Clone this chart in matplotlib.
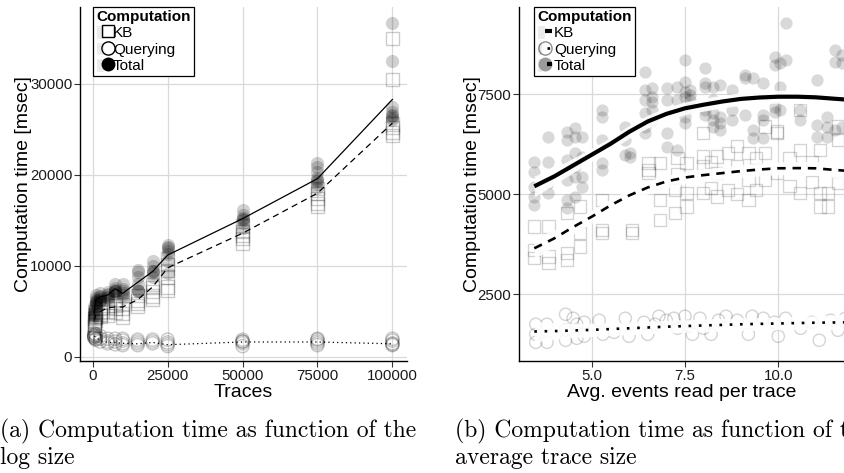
import numpy as np
import matplotlib
matplotlib.use("Agg")
import matplotlib.pyplot as plt
from matplotlib.lines import Line2D
from matplotlib.patches import Rectangle
from matplotlib.legend_handler import HandlerTuple

plt.rcParams['font.family'] = ['Liberation Sans', 'DejaVu Sans']

# ---------------- data: panel (a) ----------------
traces = [500, 1000, 2500, 5000, 7500, 10000, 15000, 20000, 25000, 50000, 75000, 100000]
total_pts = [
    [4300, 4500, 4700, 4900, 5000, 5300, 4600, 5600],
    [5600, 5800, 5900, 6200, 6500, 6800, 6000, 6300],
    [6000, 6300, 6400, 6700, 7000, 6200, 6600],
    [6300, 6600, 6900, 7100, 6500, 6800],
    [6900, 7300, 7400, 7600, 8000, 7100, 7300],
    [6500, 7000, 7500, 8000, 6800, 7200],
    [7200, 7400, 8000, 8800, 9300, 9600, 7300],
    [8800, 9200, 9400, 9500, 10000, 10600],
    [11300, 11700, 12000, 12100, 12300, 10500, 9200],
    [14200, 14700, 15000, 15200, 15300, 15600, 16200],
    [18600, 19000, 19300, 19500, 19700, 20300, 20900, 21300],
    [26000, 26300, 26500, 26600, 26900, 27500, 32500, 36700],
]
kb_pts = [
    [3300, 3600, 3900, 3500, 4200],
    [4000, 4300, 4700, 5000, 4500],
    [4500, 4900, 5300, 4700],
    [4600, 5000, 5400, 5700],
    [4900, 5300, 5700, 6000],
    [4400, 4800, 5300, 5800],
    [5600, 5900, 6200, 6800],
    [6300, 6700, 7200, 7600, 8000],
    [7300, 7700, 8800, 9500, 10200, 10800],
    [12500, 13000, 13400, 13800, 14400],
    [16500, 16900, 17400, 18000, 18500],
    [24300, 24700, 25200, 25600, 30500, 35000],
]
query_pts = [
    [2200, 2400, 2100, 2600, 2300],
    [2000, 2300, 2500, 1900],
    [1700, 2000, 2300],
    [1500, 1700, 2000],
    [1400, 1700, 2000],
    [1300, 1500, 1800, 2000],
    [1300, 1500, 1700, 1900],
    [1500, 1700, 1900],
    [1200, 1400, 1600, 1900],
    [1200, 1500, 1700, 1900, 1700],
    [1300, 1500, 1700, 1900, 2000],
    [1300, 1400, 1500, 1800, 2000],
]
total_mean = [4800, 6250, 6600, 6800, 7500, 7000, 8200, 9400, 11200, 15200, 19600, 28300]
kb_mean = [4000, 4600, 5000, 5400, 5500, 5500, 6300, 7700, 9800, 13600, 18000, 25700]
query_mean = [2300, 2200, 1800, 1600, 1600, 1500, 1450, 1600, 1350, 1650, 1650, 1450]

# ---------------- data: panel (b) ----------------
ev_total_x = [3.46, 3.84, 4.33, 4.55, 4.73, 5.27, 5.89, 6.03, 6.43, 6.61, 7.01, 7.28, 7.5,
              7.63, 8.04, 8.26, 8.44, 8.75, 9.1, 9.33, 9.6, 9.91, 10.04, 10.22, 10.58,
              11.03, 11.3, 11.52, 11.7]
ev_total_y = [
    [5817, 5567, 5192, 4942, 4733],
    [6442, 5817, 5275, 5025],
    [6567, 6358, 5858, 5358, 4858, 4650],
    [6650, 6442, 6025, 5692, 5442, 4942],
    [6442, 5942, 5442, 5192],
    [7108, 6942, 6358, 5775, 5608],
    [6692, 6358, 5983],
    [5942, 6025],
    [7608, 8067, 7358, 7025, 6692, 6525],
    [7650, 7108, 7442, 7317, 6858],
    [7650, 7358, 6525, 6192],
    [7692, 7358, 6108],
    [8358, 7817, 7567, 7442, 6942, 6775],
    [7608, 7483, 7358, 7192],
    [8150, 7775, 7692, 7108, 6983],
    [7692, 7358, 7025, 6858, 6692],
    [7733, 6942, 6775, 6608],
    [7608, 7108, 6858],
    [7983, 7900, 6983],
    [7900, 6608, 6400],
    [7775, 6983, 6858, 6400],
    [8442, 8233, 7192, 7067],
    [8275, 7692, 7108],
    [9275, 8358],
    [7108, 6858],
    [7858, 6442, 6733],
    [6942, 6692, 6442],
    [8608, 8317, 6608],
    [8483, 8275, 6692],
]
ev_kb_x = [3.46, 3.84, 4.33, 4.69, 5.27, 6.07, 6.52, 6.83, 7.23, 7.3, 7.54, 7.99, 8.2, 8.35,
           8.66, 8.9, 9.2, 9.4, 9.64, 9.96, 10.3, 10.58, 10.9, 11.12, 11.34, 11.61]
ev_kb_y = [
    [4192, 3608, 3400],
    [4192, 3442, 3275],
    [4525, 3358, 3525],
    [4692, 4025, 3692],
    [4858, 4108, 4025],
    [4025, 4108],
    [5775, 5525, 5608],
    [4358, 4858, 5775],
    [5108, 4525],
    [5900, 5500],
    [5775, 5025, 4692],
    [6525, 5692, 5025, 5942],
    [5150, 5800],
    [4942, 5525, 5942],
    [5108, 6025],
    [5000, 5700, 6200],
    [6025, 5358, 4858],
    [5100, 5900],
    [6692, 6025, 5358],
    [6567, 5525, 6525],
    [5200, 5900],
    [6108, 5025, 7108],
    [5300, 5800],
    [6108, 5025, 4692],
    [5025, 4692],
    [6692, 6358, 5275],
]
ev_q_x = [3.5, 3.5, 3.5, 3.8, 3.8, 4.3, 4.3, 4.3, 4.5, 4.6, 4.6, 4.8, 4.8, 5.2, 5.3, 5.6,
          5.9, 6.0, 6.4, 6.5, 6.7, 6.8, 7.0, 7.2, 7.3, 7.5, 7.6, 7.7, 7.9, 8.0, 8.2, 8.4,
          8.6, 8.9, 9.2, 9.3, 9.6, 9.9, 10.0, 10.2, 10.6, 10.9, 11.1, 11.4, 11.6, 11.8]
ev_q_y = [1750, 1500, 1300, 1750, 1300, 2000, 1600, 1350, 1900, 1750, 1400, 1800, 1450,
          1850, 1500, 1550, 1900, 1450, 1800, 1500, 1750, 1950, 1850, 1900, 1650, 1950,
          1700, 1500, 1900, 1650, 1500, 1850, 1950, 1850, 1500, 1950, 1900, 1800, 1450,
          1900, 1650, 1800, 1350, 1850, 1600, 1900]

smooth_x = [3.46, 4.0, 4.5, 5.0, 5.5, 6.0, 6.5, 7.0, 7.5, 8.0, 8.5, 9.0, 9.5, 10.0, 10.5,
            11.0, 11.5, 11.8]
total_smooth = [5200, 5450, 5720, 5990, 6260, 6560, 6820, 7010, 7150, 7240, 7320, 7385,
                7420, 7440, 7440, 7425, 7390, 7370]
kb_smooth = [3650, 3900, 4180, 4440, 4720, 4970, 5170, 5320, 5420, 5480, 5530, 5580, 5620,
             5650, 5655, 5650, 5610, 5590]
query_smooth = [1570, 1580, 1595, 1610, 1630, 1650, 1670, 1690, 1705, 1720, 1735, 1750,
                1760, 1770, 1780, 1790, 1795, 1800]
smooth_se = [260, 210, 180, 165, 160, 160, 160, 160, 160, 160, 160, 160, 160, 160, 165,
             170, 190, 210]

captions_a = ["(a) Computation time as function of the", "log size"]
captions_b = ["(b) Computation time as function of the", "average trace size"]

# ---------------- figure ----------------
fig = plt.figure(figsize=(8.45, 4.73), dpi=100)
W, H = 845, 473


def axes_px(x0, x1, y0, y1):
    return fig.add_axes([x0 / W, 1 - y1 / H, (x1 - x0) / W, (y1 - y0) / H])


axA = axes_px(80, 407, 7, 361)
axB = axes_px(519, 845, 7, 361)

GRID = '#d9d9d9'
for ax in (axA, axB):
    ax.set_facecolor('white')
    for s in ('top', 'right'):
        ax.spines[s].set_visible(False)
    for s in ('left', 'bottom'):
        ax.spines[s].set_color('black')
        ax.spines[s].set_linewidth(1.0)
    ax.grid(True, color=GRID, lw=0.9)
    ax.set_axisbelow(True)
    ax.tick_params(direction='out', length=4, width=0.8, color='#333333',
                   labelsize=10.8, labelcolor='#1a1a1a', pad=1.5)

# ---- panel (a)
MS = 90
for x, tp, kp, qp in zip(traces, total_pts, kb_pts, query_pts):
    axA.scatter([x] * len(tp), tp, s=MS, marker='o', c='black', alpha=0.18,
                linewidths=0, zorder=2)
    axA.scatter([x] * len(kp), kp, s=MS, marker='s', facecolors='none',
                edgecolors=(0, 0, 0, 0.2), linewidths=1.0, zorder=2)
    axA.scatter([x] * len(qp), qp, s=MS, marker='o', facecolors='none',
                edgecolors=(0, 0, 0, 0.22), linewidths=1.0, zorder=2)
axA.plot(traces, total_mean, color='black', lw=0.9, zorder=4)
axA.plot(traces, kb_mean, color='black', lw=0.9, dashes=(5, 3.5), zorder=4)
axA.plot(traces, query_mean, color='black', lw=0.9, dashes=(1, 2.5), zorder=4)

axA.set_xlim(-4240, 104870)
axA.set_ylim(-440, 38460)
axA.set_xticks([0, 25000, 50000, 75000, 100000])
axA.set_xticklabels(['0', '25000', '50000', '75000', '100000'])
axA.set_yticks([0, 10000, 20000, 30000])
axA.set_yticklabels(['0', '10000', '20000', '30000'])
axA.set_xlabel('Traces', fontsize=14, color='black')
axA.set_ylabel('Computation time [msec]', fontsize=14, color='black')
axA.xaxis.set_label_coords(0.5, -0.064)
axA.yaxis.set_label_coords(-0.148, 0.5)

KEYBG = '#ebebeb'


def keybox():
    return Rectangle((0, 0), 1, 1, facecolor=KEYBG, edgecolor='white', lw=0.8)


hA = [
    (keybox(), Line2D([], [], ls='', marker='s', ms=9, mfc='none', mec='black', mew=1.0)),
    (keybox(), Line2D([], [], ls='', marker='o', ms=9.5, mfc='none', mec='black', mew=1.0)),
    (keybox(), Line2D([], [], ls='', marker='o', ms=10, mfc='black', mec='black', mew=0)),
]
common_leg = dict(handler_map={tuple: HandlerTuple(ndivide=None, pad=0)},
                  loc='upper left', borderaxespad=0,
                  fontsize=11, title_fontproperties={'weight': 'bold', 'size': 11},
                  handlelength=1.0, handleheight=1.0, handletextpad=0.1,
                  labelspacing=0.08, borderpad=0.2, fancybox=False, framealpha=1,
                  edgecolor='black', alignment='left')
legA = axA.legend(hA, ['KB', 'Querying', 'Total'], title='Computation',
                  bbox_to_anchor=(0.04, 1.0), **common_leg)
legA.get_frame().set_linewidth(0.9)
legA.set_zorder(10)

# ---- panel (b)
MS2 = 78
for x, ys in zip(ev_total_x, ev_total_y):
    axB.scatter([x] * len(ys), ys, s=MS2, marker='o', c='black', alpha=0.15,
                linewidths=0, zorder=2)
for x, ys in zip(ev_kb_x, ev_kb_y):
    axB.scatter([x] * len(ys), ys, s=MS2, marker='s', facecolors='none',
                edgecolors=(0, 0, 0, 0.17), linewidths=1.0, zorder=2)
axB.scatter(ev_q_x, ev_q_y, s=MS2, marker='o', facecolors='none',
            edgecolors=(0, 0, 0, 0.17), linewidths=1.0, zorder=2)

sx = np.array(smooth_x)
se = np.array(smooth_se)
for ys in (total_smooth, kb_smooth, query_smooth):
    ys = np.array(ys)
    axB.fill_between(sx, ys - se, ys + se, color='white', alpha=0.88, lw=0, zorder=3)
axB.plot(sx, total_smooth, color='black', lw=3.0, solid_capstyle='butt', zorder=4)
axB.plot(sx, kb_smooth, color='black', lw=1.9, dashes=(3.2, 2.6), dash_capstyle='butt',
         zorder=4)
axB.plot(sx, query_smooth, color='black', lw=1.9, dashes=(1, 2.9), dash_capstyle='butt',
         zorder=4)

axB.set_xlim(3.05, 11.79)
axB.set_ylim(832, 9683)
axB.set_xticks([5.0, 7.5, 10.0])
axB.set_xticklabels(['5.0', '7.5', '10.0'])
axB.set_yticks([2500, 5000, 7500])
axB.set_yticklabels(['2500', '5000', '7500'])
axB.set_xlabel('Avg. events read per trace', fontsize=14, color='black')
axB.set_ylabel('Computation time [msec]', fontsize=14, color='black')
axB.xaxis.set_label_coords(0.5, -0.064)
axB.yaxis.set_label_coords(-0.118, 0.5)

hB = [
    (keybox(), Line2D([], [], color='black', lw=3.0, solid_capstyle='butt')),
    (keybox(), Line2D([], [], ls='', marker='o', ms=9.5, mfc='none', mec=(0, 0, 0, 0.45), mew=1.0),
     Line2D([], [], color='black', lw=1.9, dashes=(1, 2.9), dash_capstyle='butt')),
    (keybox(), Line2D([], [], ls='', marker='o', ms=10, mfc='#9a9a9a', mec='none', mew=0),
     Line2D([], [], color='black', lw=3.0, solid_capstyle='butt')),
]
legB = axB.legend(hB, ['KB', 'Querying', 'Total'], title='Computation',
                  bbox_to_anchor=(0.046, 1.0), **common_leg)
legB.get_frame().set_linewidth(0.9)
legB.set_zorder(10)

# ---- captions
capfont = dict(family='cmr10', size=17, color='black', va='baseline', ha='left')
fig.text(0 / W, 1 - 437 / H, captions_a[0], **capfont)
fig.text(0 / W, 1 - 464 / H, captions_a[1], **capfont)
fig.text(455 / W, 1 - 437 / H, captions_b[0], **capfont)
fig.text(455 / W, 1 - 464 / H, captions_b[1], **capfont)

fig.savefig('out.png', dpi=100)
